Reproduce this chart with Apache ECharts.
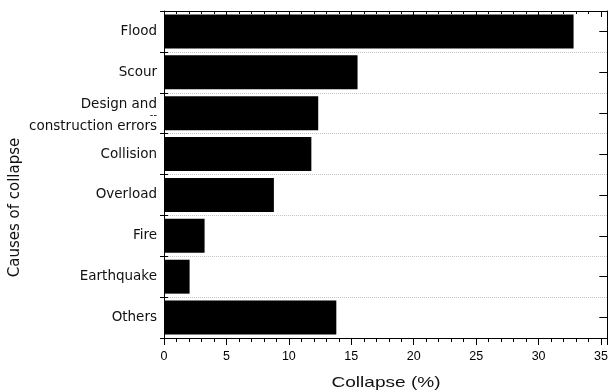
<!DOCTYPE html>
<html>
<head>
<meta charset="utf-8">
<script src="https://cdn.jsdelivr.net/npm/echarts@6/dist/echarts.min.js"></script>
<style>
html,body{margin:0;padding:0;background:#fff;}
#chart{width:611px;height:390px;}
</style>
</head>
<body>
<div id="chart"></div>
<script>
const categories = ['Flood', 'Scour', 'Design and\nconstruction errors', 'Collision', 'Overload', 'Fire', 'Earthquake', 'Others'];
const collapseValues = [32.8, 15.5, 12.35, 11.8, 8.8, 3.25, 2.05, 13.8];
const xTickStep = 5;
const xMin = 0;
const xMax = 35.5;
const xTitle = 'Collapse (%)';
const yTitle = 'Causes of collapse';

const chart = echarts.init(document.getElementById('chart'), null, {renderer: 'canvas'});

const catFont = 'DejaVu Sans';
const catData = categories.map(c => c.indexOf('\n') >= 0
  ? {value: c, textStyle: {padding: [5, 0, 0, 0]}}
  : c);

function catFormatter(v) {
  if (v.indexOf('\n') >= 0) {
    const parts = v.split('\n');
    return '{a|' + parts[0] + '}\n{d|--}\n{a|' + parts[1] + '}';
  }
  return v;
}

const black = '#000';

const option = {
  animation: false,
  backgroundColor: '#fff',
  grid: {left: 164, top: 11, width: 445, height: 327, containLabel: false},
  xAxis: [
    {
      type: 'value', position: 'bottom', min: xMin, max: xMax, interval: xTickStep,
      axisLine: {show: true, lineStyle: {color: black, width: 1}},
      axisTick: {show: true, inside: false, length: 7, lineStyle: {color: black, width: 1}},
      minorTick: {show: true, splitNumber: 5, length: 4, lineStyle: {color: black, width: 1}},
      axisLabel: {show: true, margin: 12, showMaxLabel: false, color: '#000', fontFamily: 'Liberation Sans', fontSize: 12.5},
      splitLine: {show: false}
    },
    {
      type: 'value', position: 'top', min: xMin, max: xMax, interval: xTickStep,
      axisLine: {show: true, lineStyle: {color: black, width: 1}},
      axisTick: {show: true, inside: true, length: 6, lineStyle: {color: black, width: 1}},
      minorTick: {show: true, splitNumber: 5, length: 3, lineStyle: {color: black, width: 1}},
      axisLabel: {show: false},
      splitLine: {show: false}
    }
  ],
  yAxis: [
    {
      type: 'category', position: 'left', inverse: true, data: catData,
      axisLine: {show: true, lineStyle: {color: black, width: 1}},
      axisTick: {show: true, inside: false, length: 4, lineStyle: {color: black, width: 1}},
      axisLabel: {
        show: true, margin: 7, color: '#111', fontFamily: catFont, fontSize: 13.5,
        formatter: catFormatter,
        rich: {
          a: {fontFamily: catFont, fontSize: 13.5, color: '#111', lineHeight: 16, align: 'right'},
          d: {fontFamily: catFont, fontSize: 10, color: '#111', lineHeight: 6, align: 'right'}
        }
      },
      splitLine: {show: true, lineStyle: {type: 'dotted', color: '#c4c4c4', width: 1}}
    },
    {
      type: 'category', position: 'left', inverse: true, data: categories,
      axisLine: {show: false},
      axisTick: {show: true, inside: true, length: 4, lineStyle: {color: black, width: 1}},
      axisLabel: {show: false},
      splitLine: {show: false}
    },
    {
      type: 'category', position: 'right', inverse: true, data: categories,
      axisLine: {show: true, lineStyle: {color: black, width: 1}},
      axisTick: {show: true, inside: true, alignWithLabel: true, length: 8, lineStyle: {color: black, width: 1}},
      axisLabel: {show: false},
      splitLine: {show: false}
    }
  ],
  series: [
    {
      type: 'bar', xAxisIndex: 0, yAxisIndex: 0,
      data: collapseValues,
      barCategoryGap: '17%',
      itemStyle: {color: '#000'},
      silent: true
    }
  ],
  graphic: [
    {
      type: 'text', x: 386, y: 383, scaleX: 1.27, silent: true,
      style: {text: xTitle, font: '15px "Liberation Sans"', fill: '#111', textAlign: 'center', textVerticalAlign: 'middle'}
    },
    {
      type: 'text', x: 15.5, y: 207.5, rotation: Math.PI / 2, silent: true,
      style: {text: yTitle, font: '15px "DejaVu Sans"', fill: '#111', textAlign: 'center', textVerticalAlign: 'middle'}
    }
  ]
};

chart.setOption(option);
</script>
</body>
</html>
